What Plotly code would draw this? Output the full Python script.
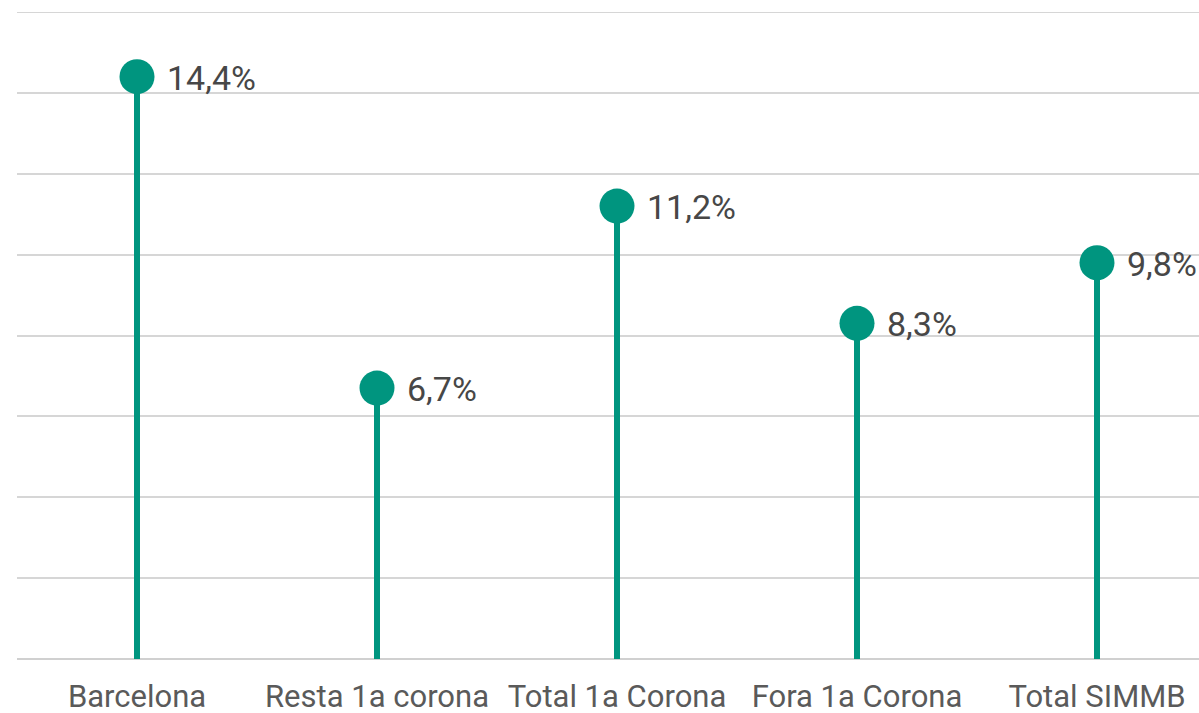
import plotly.graph_objects as go

categories = ["Barcelona", "Resta 1a corona", "Total 1a Corona", "Fora 1a Corona", "Total SIMMB"]
values = [14.4, 6.7, 11.2, 8.3, 9.8]
value_labels = ["14,4%", "6,7%", "11,2%", "8,3%", "9,8%"]
grid_top = 16

teal = "#00957f"
font_family = "Roboto, Liberation Sans, Arial, sans-serif"

fig = go.Figure()
fig.add_trace(go.Bar(
    x=categories, y=values, width=0.021,
    marker=dict(color=teal, line=dict(width=0)),
    hoverinfo="skip", showlegend=False,
))
fig.add_trace(go.Scatter(
    x=categories, y=values, mode="markers",
    marker=dict(color=teal, size=35, line=dict(width=0)),
    showlegend=False,
))
for c, v, t in zip(categories, values, value_labels):
    fig.add_annotation(
        x=c, y=v, text=t, showarrow=False,
        xanchor="left", yanchor="middle", xshift=28, yshift=-1,
        font=dict(family=font_family, size=34, color="#474747"),
    )

fig.add_shape(type="line", xref="paper", yref="y", x0=0, x1=1, y0=grid_top, y1=grid_top,
              line=dict(color="#d6d6d6", width=2), layer="below")

fig.update_layout(
    width=1199, height=713,
    margin=dict(l=17, r=0, t=12, b=54, autoexpand=False),
    paper_bgcolor="white", plot_bgcolor="white",
    bargap=0,
    xaxis=dict(
        range=[-0.5, 4.425], showgrid=False, showline=False, automargin=False,
        ticks="outside", ticklen=10, tickcolor="rgba(0,0,0,0)",
        tickfont=dict(family=font_family, size=31, color="#5a5a5a"),
    ),
    yaxis=dict(
        range=[0, grid_top], dtick=2, showticklabels=False, automargin=False,
        showgrid=True, gridcolor="#d6d6d6", gridwidth=2,
        zeroline=True, zerolinecolor="#d0d0d0", zerolinewidth=2,
        showline=False,
    ),
)

fig.write_html(
    "out.html",
    config={"displayModeBar": False},
    post_script="document.body.style.margin='0';document.body.style.overflow='hidden';",
)
